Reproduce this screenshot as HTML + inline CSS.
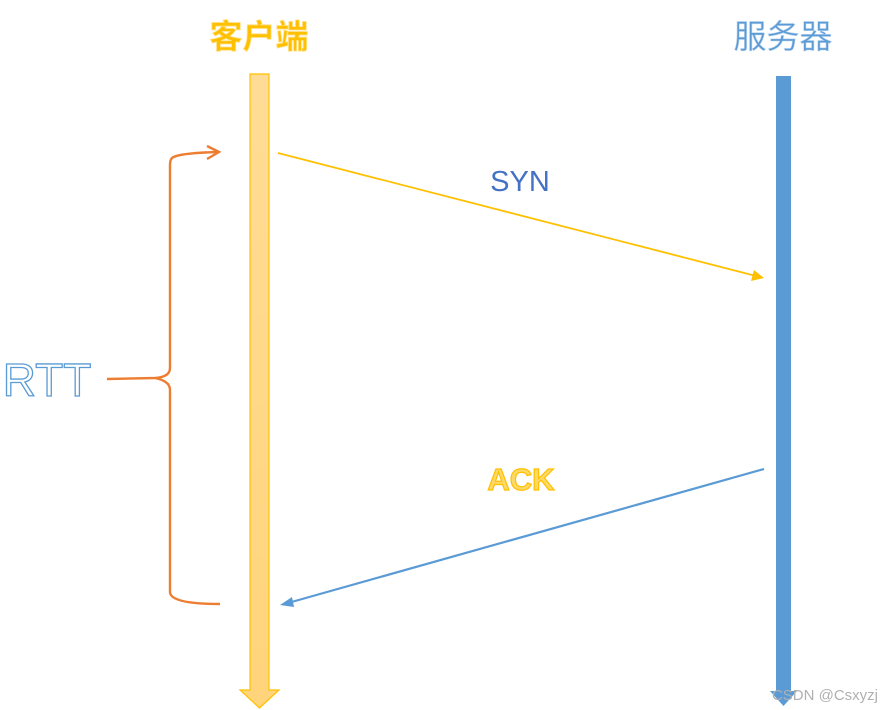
<!DOCTYPE html>
<html><head><meta charset="utf-8"><style>
html,body{margin:0;padding:0;background:#fff;width:882px;height:710px;overflow:hidden}
</style></head><body>
<svg width="882" height="710" viewBox="0 0 882 710" xmlns="http://www.w3.org/2000/svg">
<defs>
<linearGradient id="g" x1="0" y1="0" x2="0" y2="1"><stop offset="0" stop-color="#ffdc96"/><stop offset="1" stop-color="#ffd47a"/></linearGradient>
</defs>
<!-- client lifeline -->
<path d="M250,74 L269,74 L269,690 L279,690 L259.5,708 L240,690 L250,690 Z" fill="url(#g)" stroke="#ffc000" stroke-width="1.2"/>
<!-- server lifeline -->
<path d="M776,76 L791,76 L791,691 L797,691 L783.5,706 L770,691 L776,691 Z" fill="#5b9bd5"/>
<!-- titles -->
<text x="259" y="48" text-anchor="middle" font-family="'Liberation Sans','Noto Sans CJK SC',sans-serif" font-size="33" font-weight="bold" fill="#ffc000" stroke="#ffe08a" stroke-width="0.8">客户端</text>
<text x="783" y="48" text-anchor="middle" font-family="'Liberation Sans','Noto Sans CJK SC',sans-serif" font-size="33" fill="#5b9bd5" stroke="#bcd6f0" stroke-width="0.6">服务器</text>
<!-- SYN -->
<line x1="278" y1="153" x2="756" y2="276" stroke="#ffc000" stroke-width="1.8"/>
<path d="M764,278 L751,281 L754,270 Z" fill="#ffc000"/>
<text x="520" y="191" text-anchor="middle" font-family="'Liberation Sans',sans-serif" font-size="29" fill="#4472c4">SYN</text>
<!-- ACK -->
<line x1="764" y1="469" x2="288" y2="603" stroke="#5b9bd5" stroke-width="2.2"/>
<path d="M280,605 L292,597 L294,607 Z" fill="#5b9bd5"/>
<text x="521" y="490" text-anchor="middle" font-family="'Liberation Sans',sans-serif" font-size="31" font-weight="bold" fill="#ffd966" stroke="#ffc000" stroke-width="1.2">ACK</text>
<!-- RTT brace -->
<path d="M219,152 Q178,153 172,158 Q170,160 170,165 L170,368 Q170,377 155,378 L107,379 M155,378 Q170,381 170,390 L170,592 Q170,604 220,604" fill="none" stroke="#ed7d31" stroke-width="2.4"/>
<path d="M207,146 L219,152 L207,159" fill="none" stroke="#ed7d31" stroke-width="2.4"/>
<text x="47" y="396" text-anchor="middle" font-family="'Liberation Sans',sans-serif" font-size="46" fill="#fff" stroke="#5b9bd5" stroke-width="1.3">RTT</text>
<!-- watermark -->
<text x="878" y="700" text-anchor="end" font-family="'Liberation Sans',sans-serif" font-size="15" fill="#b0b0b0">CSDN @Csxyzj</text>
</svg>
</body></html>
